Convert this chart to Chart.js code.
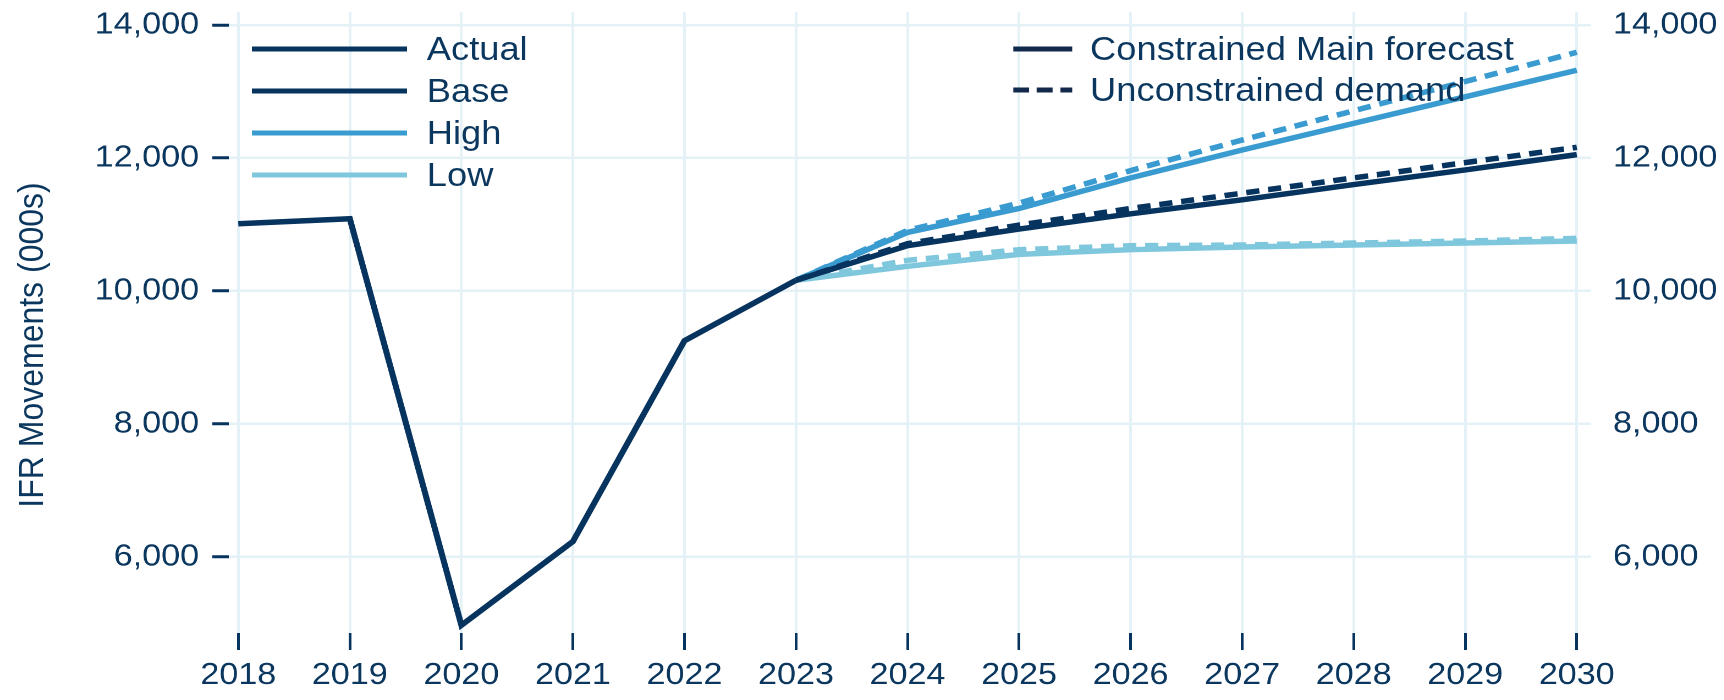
<!DOCTYPE html>
<html>
<head>
<meta charset="utf-8">
<script src="https://cdn.jsdelivr.net/npm/chart.js@4.4.1/dist/chart.umd.min.js"></script>
<style>
  html, body { margin: 0; padding: 0; background: #ffffff; overflow: hidden; }
  #stage { position: absolute; left: 0; top: 0; width: 1568px; height: 700px;
           transform: scaleX(1.1); transform-origin: 0 0; }
  #wrap { position: absolute; left: 0; top: 0; width: 1568px; height: 700px; }
  .txt { font-family: "Liberation Sans", Arial, Helvetica, sans-serif; color: #0b375f; }
  .legrow { position: absolute; height: 40px; line-height: 40px; font-size: 33px; white-space: nowrap; }
  .legrow svg { position: absolute; top: 0; }
  .legrow span { position: absolute; top: 0; }
  #ytitle { position: absolute; left: -172px; top: 327px; width: 400px; height: 36px; line-height: 36px;
            font-size: 32px; text-align: center; transform: rotate(-90deg); transform-origin: 50% 50%; white-space: nowrap; }
</style>
</head>
<body>
<div id="stage">
  <div id="wrap"><canvas id="c"></canvas></div>
  <div id="ytitle" class="txt">IFR Movements (000s)</div>
  <div id="legends"></div>
</div>
<script>
// ---------- data ----------
const actualYears   = [2018, 2019, 2020, 2021, 2022, 2023];
const actualValues  = [11010, 11085, 4970, 6230, 9250, 10160];

const forecastYears = [2023, 2024, 2025, 2026, 2027, 2028, 2029, 2030];
const baseConstrained   = [10160, 10680, 10930, 11160, 11370, 11600, 11820, 12050];
const baseUnconstrained = [10160, 10710, 10990, 11240, 11470, 11700, 11930, 12160];
const highConstrained   = [10160, 10880, 11240, 11700, 12120, 12520, 12920, 13320];
const highUnconstrained = [10160, 10910, 11320, 11810, 12270, 12710, 13150, 13590];
const lowConstrained    = [10160, 10370, 10550, 10620, 10660, 10690, 10720, 10750];
const lowUnconstrained  = [10160, 10460, 10620, 10680, 10690, 10720, 10750, 10790];

const xTickValues = [2018, 2019, 2020, 2021, 2022, 2023, 2024, 2025, 2026, 2027, 2028, 2029, 2030];
const yTickValues = [6000, 8000, 10000, 12000, 14000];

const scenarioNames = ['Actual', 'Base', 'High', 'Low'];
const typeNames = ['Constrained Main forecast', 'Unconstrained demand'];

// ---------- styles ----------
const NAVY = '#07335f';
const HIGH = '#3a9bd0';
const LOW = '#7fc7dc';
const TEXT = '#0b375f';
const GRID = '#e4f2f7';
const FONT = '"Liberation Sans", Arial, Helvetica, sans-serif';
const DASH = [12, 8];

function pts(xs, ys) { return xs.map((x, i) => ({ x: x, y: ys[i] })); }

function ds(label, xs, ys, color, dashed) {
  return {
    label: label,
    data: pts(xs, ys),
    borderColor: color,
    backgroundColor: color,
    borderWidth: 5.5,
    borderDash: dashed ? DASH : [],
    pointRadius: 0,
    pointHoverRadius: 0,
    tension: 0,
    fill: false
  };
}

const datasets = [
  ds('Actual', actualYears, actualValues, NAVY, false),
  ds('Base (unconstrained)', forecastYears, baseUnconstrained, NAVY, true),
  ds('Base', forecastYears, baseConstrained, NAVY, false),
  ds('High (unconstrained)', forecastYears, highUnconstrained, HIGH, true),
  ds('High', forecastYears, highConstrained, HIGH, false),
  ds('Low (unconstrained)', forecastYears, lowUnconstrained, LOW, true),
  ds('Low', forecastYears, lowConstrained, LOW, false)
];

const fmt = v => Number(v).toLocaleString('en-US');
const noPad = s => { s.paddingTop = 0; s.paddingBottom = 0; s.paddingLeft = 0; s.paddingRight = 0; };

new Chart(document.getElementById('c'), {
  type: 'line',
  data: { datasets: datasets },
  options: {
    responsive: true,
    maintainAspectRatio: false,
    animation: false,
    devicePixelRatio: 2,
    layout: { padding: { top: 12, left: 0, right: 0, bottom: 0 } },
    plugins: { legend: { display: false }, tooltip: { enabled: false } },
    scales: {
      x: {
        type: 'linear',
        position: 'bottom',
        min: 2017.915,
        max: 2030.128,
        afterBuildTicks: s => { s.ticks = xTickValues.map(v => ({ value: v })); },
        afterFit: s => { s.height = 67; noPad(s); },
        ticks: { callback: v => String(v), color: TEXT, font: { family: FONT, size: 31 }, padding: 7, maxRotation: 0, autoSkip: false },
        grid: { color: GRID, lineWidth: 2.5, tickColor: NAVY, tickLength: 17, tickWidth: 2.5 },
        border: { display: false }
      },
      y: {
        type: 'linear',
        position: 'left',
        min: 4853,
        max: 14196,
        afterBuildTicks: s => { s.ticks = yTickValues.map(v => ({ value: v })); },
        afterFit: s => { s.width = 208; noPad(s); },
        ticks: { callback: fmt, color: TEXT, font: { family: FONT, size: 31 }, padding: 12 },
        grid: { color: GRID, lineWidth: 2.5, tickColor: NAVY, tickLength: 15, tickWidth: 3 },
        border: { display: false }
      },
      y2: {
        type: 'linear',
        position: 'right',
        min: 4853,
        max: 14196,
        afterBuildTicks: s => { s.ticks = yTickValues.map(v => ({ value: v })); },
        afterFit: s => { s.width = 121.6; noPad(s); },
        ticks: { callback: fmt, color: TEXT, font: { family: FONT, size: 31 }, padding: 20 },
        grid: { drawOnChartArea: false, drawTicks: false },
        border: { display: false }
      }
    }
  }
});

// ---------- legends (HTML) ----------
const legends = document.getElementById('legends');
function legendRow(left, top, lineLen, textLeft, color, dashed, label) {
  const row = document.createElement('div');
  row.className = 'legrow txt';
  row.style.left = left + 'px';
  row.style.top = top + 'px';
  const svg = '<svg width="' + lineLen + '" height="40" style="left:0"><line x1="0" y1="20" x2="' + lineLen +
    '" y2="20" stroke="' + color + '" stroke-width="5"' + (dashed ? ' stroke-dasharray="14.5 7"' : '') + '/></svg>';
  row.innerHTML = svg + '<span style="left:' + textLeft + 'px">' + label + '</span>';
  legends.appendChild(row);
}
const leftColors = [NAVY, NAVY, HIGH, LOW];
const leftTops = [29, 71, 113, 155];
scenarioNames.forEach((n, i) => legendRow(229, leftTops[i], 141, 159, leftColors[i], false, n));
const rightTops = [29, 70];
typeNames.forEach((n, i) => legendRow(921, rightTops[i], 54, 70, '#13294b', i === 1, n));
</script>
</body>
</html>
